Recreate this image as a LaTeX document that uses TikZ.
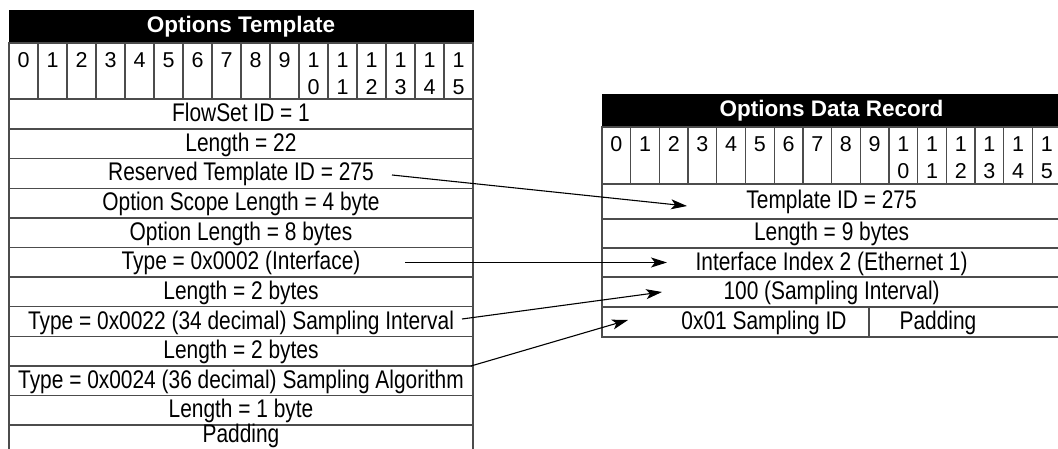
\documentclass[tikz,border=0pt]{standalone}
\usepackage{fontspec}
\setmainfont{Liberation Sans}
\newfontfamily\condfont{Liberation Sans}[FakeStretch=0.82]
\usetikzlibrary{arrows.meta}
\newcommand{\fsn}{\fontsize{21.5}{25}\selectfont}
\newcommand{\fsrow}{\condfont\fontsize{25.5}{30}\selectfont}
\newcommand{\fsbold}{\fontsize{22.5}{26}\selectfont\bfseries}
\begin{document}
\begin{tikzpicture}[x=1pt,y=-1pt,
  cellbox/.style={draw=black!70, line width=1.3pt, inner sep=0pt, outer sep=0pt, font=\fsrow, text height=18pt, text depth=3pt},
  titlebar/.style={fill=black, draw=black, line width=1pt, inner sep=0pt, text=white, font=\fsbold, text height=16pt, text depth=4pt},
  bitlabel/.style={inner sep=0pt, font=\fsn},
  rowlabel/.style={inner sep=0pt, font=\fsrow, text height=18pt, text depth=3pt},
  link/.style={draw=black, line width=1.1pt, -{Stealth[length=16pt,width=10pt,inset=4pt]}},
]
\clip (0,0) rectangle (1058,449);
\fill[white] (0,0) rectangle (1058,449);
% ---------- Left table ----------
\node[titlebar, minimum width=464pt, minimum height=32pt] (lt) at (241,27) {Options Template};
\foreach \i in {0,...,15}{
  \node[cellbox, minimum width=29pt, minimum height=56pt] (lb\i) at ({23.5+29*\i},71) {};
}
\foreach \i in {0,...,9}{
  \node[bitlabel] (ld\i) at ({23.5+29*\i},60) {\i};
}
\foreach \i in {10,...,15}{
  \pgfmathtruncatemacro{\lo}{\i-10}
  \node[bitlabel] (ldh\i) at ({23.5+29*\i},60) {1};
  \node[bitlabel] (ldl\i) at ({23.5+29*\i},87) {\lo};
}
\foreach \t [count=\k] in {FlowSet ID = 1,Length = 22,Reserved Template ID = 275,Option Scope Length = 4 byte,Option Length = 8 bytes,Type = 0x0002 (Interface),Length = 2 bytes,Type = 0x0022 (34 decimal) Sampling Interval,Length = 2 bytes,Type = 0x0024 (36 decimal) Sampling Algorithm,Length = 1 byte}{
  \node[cellbox, minimum width=464pt, minimum height=29.6pt] (lr\k) at (241,{99.5+29.6*(\k-0.5)}) {\t};
}
\node[cellbox, minimum width=464pt, minimum height=29.6pt] (lr12) at (241,{99.5+29.6*11.5}) {};
\node[rowlabel] (lr12t) at (241,435) {Padding};
% ---------- Right table ----------
\node[titlebar, minimum width=459.2pt, minimum height=32pt] (rt) at (831.6,111) {Options Data Record};
\foreach \i in {0,...,15}{
  \node[cellbox, minimum width=28.7pt, minimum height=57pt] (rb\i) at ({602+28.7*(\i+0.5)},155.5) {};
}
\foreach \i in {0,...,9}{
  \node[bitlabel] (rd\i) at ({602+28.7*(\i+0.5)},144) {\i};
}
\foreach \i in {10,...,15}{
  \pgfmathtruncatemacro{\lo}{\i-10}
  \node[bitlabel] (rdh\i) at ({602+28.7*(\i+0.5)},144) {1};
  \node[bitlabel] (rdl\i) at ({602+28.7*(\i+0.5)},171) {\lo};
}
\node[cellbox, minimum width=459.2pt, minimum height=35pt] (rr1) at (831.6,201.5) {Template ID = 275};
\node[cellbox, minimum width=459.2pt, minimum height=29pt] (rr2) at (831.6,233.5) {Length = 9 bytes};
\node[cellbox, minimum width=459.2pt, minimum height=29pt] (rr3) at (831.6,262.5) {Interface Index 2 (Ethernet 1)};
\node[cellbox, minimum width=459.2pt, minimum height=30pt] (rr4) at (831.6,292) {100 (Sampling Interval)};
\node[cellbox, minimum width=267pt, minimum height=30pt] (rr5a) at (735.5,322) {};
\node[cellbox, minimum width=192.2pt, minimum height=30pt] (rr5b) at (965.1,322) {};
\node[rowlabel] (rr5at) at (764,322) {0x01 Sampling ID};
\node[rowlabel] (rr5bt) at (938,322) {Padding};
% ---------- Connectors ----------
\coordinate (s1) at (392,175);
\coordinate (e1) at (687,206);
\coordinate (s2) at (405,262.5);
\coordinate (e2) at (667,262.5);
\coordinate (s3) at (462,319);
\coordinate (e3) at (662,292);
\coordinate (s4) at (471,366);
\coordinate (e4) at (628,320);
\draw[link] (s1) -- (e1);
\draw[link] (s2) -- (e2);
\draw[link] (s3) -- (e3);
\draw[link] (s4) -- (e4);
\end{tikzpicture}
\end{document}
